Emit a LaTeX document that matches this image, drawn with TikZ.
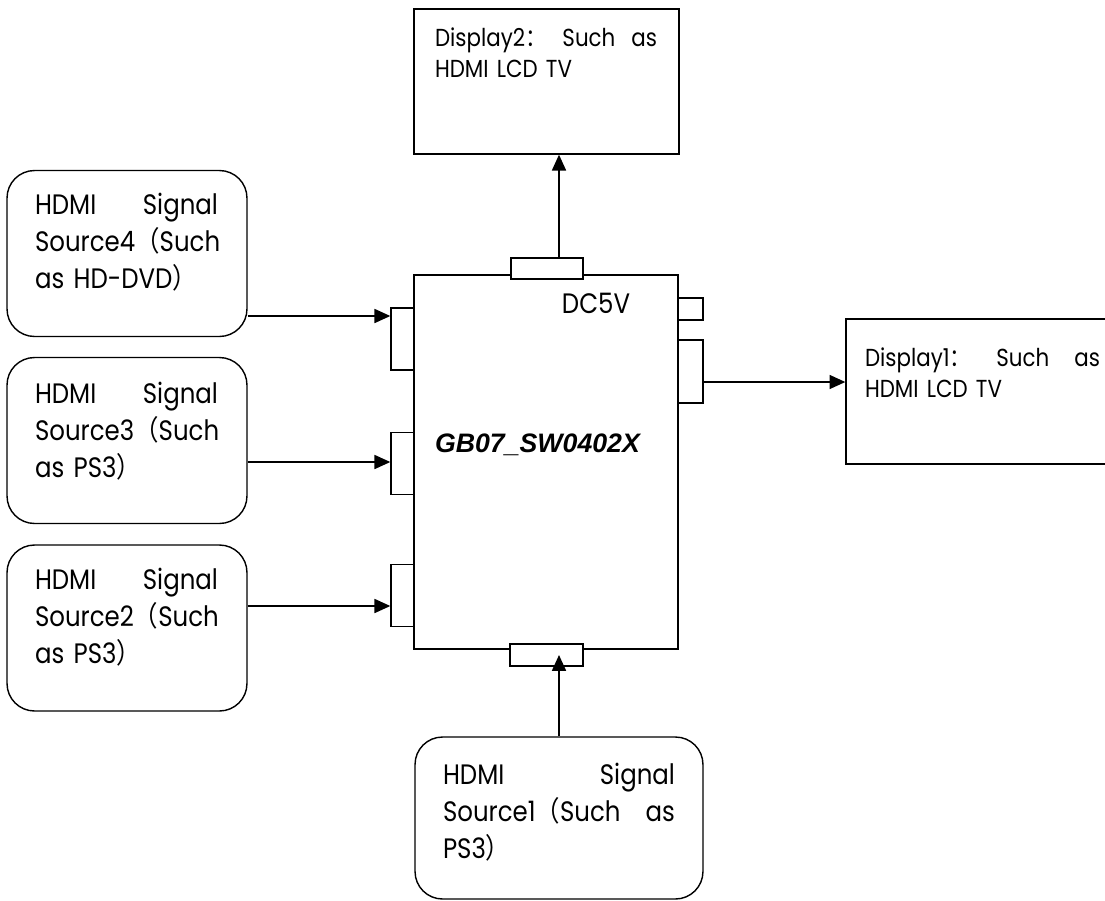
\documentclass[tikz,border=0pt]{standalone}
\usepackage{fontspec}
\setmainfont{Poppins}[FakeStretch=0.87]
\newfontfamily\cjkfont{Noto Sans CJK SC}[FakeStretch=0.87]
\newfontfamily\labelfont{Liberation Sans}
\usetikzlibrary{arrows.meta}
\newcommand{\fwlp}{{\cjkfont （}}
\newcommand{\fwrp}{{\cjkfont ）}}
\newcommand{\fwcolon}{{\cjkfont ：}}

\begin{document}
\begin{tikzpicture}[x=0.02cm,y=-0.02cm,>={Triangle[length=9pt,width=8pt]},line width=0.8pt]
\tikzset{unit/.style={draw,minimum width=5.28cm,minimum height=7.48cm,inner sep=0pt},
         display/.style={draw,minimum width=5.3cm,minimum height=2.9cm,inner sep=0pt},
         source/.style={draw,rounded corners=0.55cm,minimum width=4.8cm,minimum height=3.32cm,inner sep=0pt},
         port/.style={draw,fill=white,inner sep=0pt},
         srctext/.style={anchor=north west,inner sep=0pt,align=left,font=\fontsize{16}{21}\selectfont},
         disptext/.style={anchor=north west,inner sep=0pt,align=left,font=\fontsize{14}{17.6}\selectfont}}
\useasboundingbox (0,0) rectangle (1105,900);
\node[unit] (sw) at (546,462) {};
\node[font=\labelfont\bfseries\itshape\fontsize{15.2}{18}\selectfont] (name) at (537.5,445) {GB07\_SW0402X};
\node[font=\fontsize{16}{19}\selectfont] (dc) at (596,303) {DC5V};
\node[display] (d2) at (546.5,81.5) {};
\node[display] (d1) at (978.5,391.5) {};
\node[source] (s4) at (127,253.5) {};
\node[source] (s3) at (127,440.5) {};
\node[source] (s2) at (127,628) {};
\node[source,minimum width=5.76cm,minimum height=3.24cm] (s1) at (559,818) {};
% ports on the switch
\node[port,minimum width=1.44cm,minimum height=0.42cm] (pt) at (547,268.5) {};
\node[port,minimum width=1.46cm,minimum height=0.44cm] (pb) at (546.5,655) {};
\node[port,minimum width=0.46cm,minimum height=1.24cm] (p4) at (402.5,339) {};
\node[port,minimum width=0.46cm,minimum height=1.24cm] (p3) at (402.5,463.5) {};
\node[port,minimum width=0.46cm,minimum height=1.24cm] (p2) at (402.5,595.5) {};
\node[port,minimum width=0.5cm,minimum height=1.26cm] (pr) at (690.5,371.5) {};
\node[port,minimum width=0.5cm,minimum height=0.44cm] (dcport) at (690.5,309) {};
% texts
\node[srctext,text width=3.66cm] (s4t) at ([shift={(28,23)}]s4.north west) {HDMI\hfill Signal\\Source4\fwlp Such\\as HD-DVD\fwrp};
\node[srctext,text width=3.66cm] (s3t) at ([shift={(28,25)}]s3.north west) {HDMI\hfill Signal\\Source3\fwlp Such\\as PS3\fwrp};
\node[srctext,text width=3.66cm] (s2t) at ([shift={(28,23)}]s2.north west) {HDMI\hfill Signal\\Source2\fwlp Such\\as PS3\fwrp};
\node[srctext,text width=4.64cm] (s1t) at ([shift={(28,26)}]s1.north west) {HDMI\hfill Signal\\Source1\fwlp Such\hfill as\\PS3\fwrp};
\node[disptext,text width=4.44cm] (d2t) at ([shift={(21,19)}]d2.north west) {Display2\fwcolon\hfill Such\hfill as\\HDMI LCD TV};
\node[disptext,text width=4.7cm] (d1t) at ([shift={(19,29)}]d1.north west) {Display1\fwcolon\hfill Such\hfill as\\HDMI LCD TV};
% connections
\draw[->] (pt.north -| s1.north) -- (d2.south -| s1.north);
\draw[->] (s1.north) -- (pb.center -| s1.north);
\draw[->] (s4.east |- 0,316) -- (p4.west |- 0,316);
\draw[->] (s3.east |- 0,462) -- (p3.west |- 0,462);
\draw[->] (s2.east |- 0,606) -- (p2.west |- 0,606);
\draw[->] (pr.east |- 0,382) -- (d1.west |- 0,382);
\end{tikzpicture}
\end{document}
